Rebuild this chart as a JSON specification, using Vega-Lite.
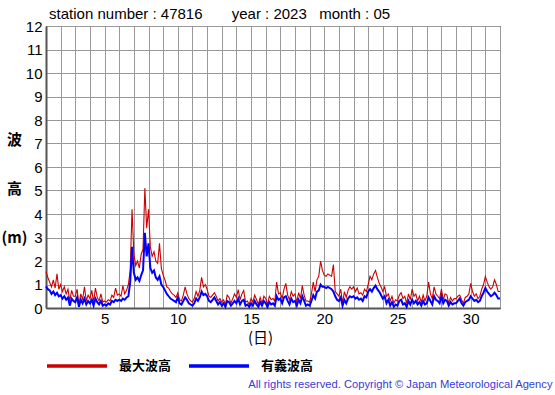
{
"$schema": "https://vega.github.io/schema/vega-lite/v6.json",
"background": "white",
"padding": {"left": 0, "top": 6, "right": 0, "bottom": 0},
"title": {"text": "All rights reserved. Copyright © Japan Meteorological Agency", "orient": "bottom", "anchor": "end", "font": "Liberation Sans", "fontSize": 11.2, "fontWeight": "normal", "color": "#3a3ad8", "dx": 48, "offset": 6},
"config": {
  "view": {"stroke": "black", "strokeWidth": 1},
  "legend": {"orient": "none", "legendX": -1, "legendY": 308, "direction": "horizontal", "title": null, "symbolType": "stroke", "symbolSize": 3600, "symbolStrokeWidth": 3.5, "labelFont": "Noto Sans CJK JP", "labelFontSize": 13, "labelFontWeight": "bold", "labelColor": "black", "labelOffset": 10, "columnPadding": 10}
},
"vconcat": [{
  "title": {"text": "station number : 47816\u00a0\u00a0\u00a0\u00a0\u00a0\u00a0\u00a0year : 2023\u00a0\u00a0\u00a0month : 05", "anchor": "start", "dx": 48, "font": "Liberation Sans", "fontSize": 15, "fontWeight": "normal", "color": "black", "offset": -3},
  "width": 454,
  "height": 282,
  "data": {"values": [
{"t":1,"max":1.55,"sig":0.92},{"t":1.125,"max":1.3,"sig":0.8},{"t":1.25,"max":1.1,"sig":0.75},{"t":1.375,"max":0.9,"sig":0.6},{"t":1.5,"max":1.2,"sig":0.7},{"t":1.625,"max":0.85,"sig":0.55},{"t":1.75,"max":1.45,"sig":0.65},{"t":1.875,"max":0.8,"sig":0.5},
{"t":2,"max":1.0,"sig":0.55},{"t":2.125,"max":0.7,"sig":0.4},{"t":2.25,"max":0.9,"sig":0.5},{"t":2.375,"max":0.6,"sig":0.35},{"t":2.5,"max":0.8,"sig":0.45},{"t":2.625,"max":0.3,"sig":0.1},{"t":2.75,"max":0.75,"sig":0.4},{"t":2.875,"max":0.5,"sig":0.3},
{"t":3,"max":0.5,"sig":0.25},{"t":3.125,"max":0.8,"sig":0.45},{"t":3.25,"max":0.15,"sig":0.05},{"t":3.375,"max":0.6,"sig":0.35},{"t":3.5,"max":0.35,"sig":0.2},{"t":3.625,"max":0.9,"sig":0.4},{"t":3.75,"max":0.3,"sig":0.15},{"t":3.875,"max":0.55,"sig":0.3},
{"t":4,"max":0.4,"sig":0.2},{"t":4.125,"max":0.75,"sig":0.35},{"t":4.25,"max":0.25,"sig":0.1},{"t":4.375,"max":0.85,"sig":0.4},{"t":4.5,"max":0.45,"sig":0.25},{"t":4.625,"max":0.3,"sig":0.15},{"t":4.75,"max":0.6,"sig":0.3},{"t":4.875,"max":0.25,"sig":0.1},
{"t":5,"max":0.3,"sig":0.15},{"t":5.125,"max":0.25,"sig":0.1},{"t":5.25,"max":0.35,"sig":0.2},{"t":5.375,"max":0.3,"sig":0.15},{"t":5.5,"max":0.55,"sig":0.3},{"t":5.625,"max":0.45,"sig":0.25},{"t":5.75,"max":0.85,"sig":0.35},{"t":5.875,"max":0.55,"sig":0.3},
{"t":6,"max":0.6,"sig":0.35},{"t":6.125,"max":0.5,"sig":0.3},{"t":6.25,"max":0.95,"sig":0.4},{"t":6.375,"max":0.6,"sig":0.35},{"t":6.5,"max":0.75,"sig":0.45},{"t":6.625,"max":1.0,"sig":0.5},{"t":6.75,"max":1.6,"sig":1.1},{"t":6.875,"max":4.2,"sig":2.6},
{"t":7,"max":2.3,"sig":1.5},{"t":7.125,"max":1.8,"sig":1.2},{"t":7.25,"max":2.0,"sig":1.3},{"t":7.375,"max":1.7,"sig":1.15},{"t":7.5,"max":2.3,"sig":1.4},{"t":7.625,"max":2.5,"sig":1.6},{"t":7.75,"max":5.1,"sig":3.2},{"t":7.875,"max":3.4,"sig":2.2},
{"t":8,"max":4.2,"sig":2.75},{"t":8.125,"max":2.6,"sig":1.7},{"t":8.25,"max":2.2,"sig":1.5},{"t":8.375,"max":2.4,"sig":1.6},{"t":8.5,"max":2.0,"sig":1.3},{"t":8.625,"max":1.9,"sig":1.2},{"t":8.75,"max":2.75,"sig":1.35},{"t":8.875,"max":1.7,"sig":1.0},
{"t":9,"max":1.4,"sig":0.9},{"t":9.125,"max":1.2,"sig":0.75},{"t":9.25,"max":0.9,"sig":0.6},{"t":9.375,"max":0.85,"sig":0.5},{"t":9.5,"max":0.7,"sig":0.4},{"t":9.625,"max":0.6,"sig":0.35},{"t":9.75,"max":0.55,"sig":0.3},{"t":9.875,"max":0.45,"sig":0.25},
{"t":10,"max":0.65,"sig":0.45},{"t":10.125,"max":0.35,"sig":0.2},{"t":10.25,"max":0.3,"sig":0.15},{"t":10.375,"max":0.55,"sig":0.3},{"t":10.5,"max":0.9,"sig":0.45},{"t":10.625,"max":0.6,"sig":0.35},{"t":10.75,"max":0.4,"sig":0.2},{"t":10.875,"max":0.3,"sig":0.15},
{"t":11,"max":0.25,"sig":0.1},{"t":11.125,"max":0.4,"sig":0.2},{"t":11.25,"max":0.7,"sig":0.4},{"t":11.375,"max":0.5,"sig":0.3},{"t":11.5,"max":0.75,"sig":0.45},{"t":11.625,"max":1.3,"sig":0.7},{"t":11.75,"max":0.9,"sig":0.55},{"t":11.875,"max":1.0,"sig":0.6},
{"t":12,"max":0.8,"sig":0.5},{"t":12.125,"max":0.5,"sig":0.3},{"t":12.25,"max":0.45,"sig":0.25},{"t":12.375,"max":0.55,"sig":0.35},{"t":12.5,"max":0.65,"sig":0.45},{"t":12.625,"max":0.5,"sig":0.3},{"t":12.75,"max":0.3,"sig":0.15},{"t":12.875,"max":0.4,"sig":0.25},
{"t":13,"max":0.25,"sig":0.1},{"t":13.125,"max":0.35,"sig":0.2},{"t":13.25,"max":0.15,"sig":0.05},{"t":13.375,"max":0.55,"sig":0.3},{"t":13.5,"max":0.45,"sig":0.25},{"t":13.625,"max":0.2,"sig":0.1},{"t":13.75,"max":0.4,"sig":0.2},{"t":13.875,"max":0.6,"sig":0.3},
{"t":14,"max":0.45,"sig":0.2},{"t":14.125,"max":0.78,"sig":0.4},{"t":14.25,"max":0.35,"sig":0.15},{"t":14.375,"max":0.6,"sig":0.3},{"t":14.5,"max":0.75,"sig":0.35},{"t":14.625,"max":0.25,"sig":0.1},{"t":14.75,"max":0.3,"sig":0.15},{"t":14.875,"max":0.15,"sig":0.05},
{"t":15,"max":0.4,"sig":0.2},{"t":15.125,"max":0.25,"sig":0.1},{"t":15.25,"max":0.55,"sig":0.3},{"t":15.375,"max":0.35,"sig":0.15},{"t":15.5,"max":0.15,"sig":0.05},{"t":15.625,"max":0.45,"sig":0.25},{"t":15.75,"max":0.2,"sig":0.1},{"t":15.875,"max":0.5,"sig":0.3},
{"t":16,"max":0.4,"sig":0.2},{"t":16.125,"max":0.15,"sig":0.05},{"t":16.25,"max":0.5,"sig":0.25},{"t":16.375,"max":0.35,"sig":0.15},{"t":16.5,"max":0.4,"sig":0.2},{"t":16.625,"max":0.3,"sig":0.1},{"t":16.75,"max":1.1,"sig":0.5},{"t":16.875,"max":0.6,"sig":0.35},
{"t":17,"max":0.65,"sig":0.4},{"t":17.125,"max":0.4,"sig":0.2},{"t":17.25,"max":0.8,"sig":0.45},{"t":17.375,"max":1.05,"sig":0.5},{"t":17.5,"max":0.55,"sig":0.3},{"t":17.625,"max":0.35,"sig":0.15},{"t":17.75,"max":0.7,"sig":0.4},{"t":17.875,"max":0.5,"sig":0.25},
{"t":18,"max":0.6,"sig":0.3},{"t":18.125,"max":0.25,"sig":0.1},{"t":18.25,"max":0.65,"sig":0.35},{"t":18.375,"max":0.4,"sig":0.2},{"t":18.5,"max":0.95,"sig":0.5},{"t":18.625,"max":0.55,"sig":0.3},{"t":18.75,"max":0.3,"sig":0.1},{"t":18.875,"max":0.3,"sig":0.15},
{"t":19,"max":0.25,"sig":0.1},{"t":19.125,"max":0.6,"sig":0.3},{"t":19.25,"max":1.1,"sig":0.55},{"t":19.375,"max":0.7,"sig":0.4},{"t":19.5,"max":1.2,"sig":0.7},{"t":19.625,"max":1.35,"sig":0.75},{"t":19.75,"max":2.0,"sig":1.0},{"t":19.875,"max":1.6,"sig":0.9},
{"t":20,"max":1.4,"sig":0.9},{"t":20.125,"max":1.35,"sig":0.85},{"t":20.25,"max":1.45,"sig":0.9},{"t":20.375,"max":1.4,"sig":0.85},{"t":20.5,"max":1.35,"sig":0.8},{"t":20.625,"max":1.85,"sig":0.7},{"t":20.75,"max":0.7,"sig":0.5},{"t":20.875,"max":0.6,"sig":0.35},
{"t":21,"max":0.5,"sig":0.3},{"t":21.125,"max":0.8,"sig":0.45},{"t":21.25,"max":0.2,"sig":0.1},{"t":21.375,"max":0.7,"sig":0.35},{"t":21.5,"max":0.45,"sig":0.2},{"t":21.625,"max":0.75,"sig":0.4},{"t":21.75,"max":0.9,"sig":0.5},{"t":21.875,"max":0.8,"sig":0.45},
{"t":22,"max":0.9,"sig":0.5},{"t":22.125,"max":0.7,"sig":0.4},{"t":22.25,"max":0.85,"sig":0.45},{"t":22.375,"max":0.6,"sig":0.35},{"t":22.5,"max":0.65,"sig":0.4},{"t":22.625,"max":0.55,"sig":0.3},{"t":22.75,"max":0.8,"sig":0.5},{"t":22.875,"max":0.7,"sig":0.45},
{"t":23,"max":1.0,"sig":0.7},{"t":23.125,"max":1.35,"sig":0.8},{"t":23.25,"max":1.2,"sig":0.7},{"t":23.375,"max":1.45,"sig":0.85},{"t":23.5,"max":1.6,"sig":0.95},{"t":23.625,"max":1.3,"sig":0.8},{"t":23.75,"max":1.05,"sig":0.7},{"t":23.875,"max":0.9,"sig":0.55},
{"t":24,"max":0.7,"sig":0.4},{"t":24.125,"max":0.9,"sig":0.5},{"t":24.25,"max":0.5,"sig":0.2},{"t":24.375,"max":0.6,"sig":0.35},{"t":24.5,"max":0.3,"sig":0.1},{"t":24.625,"max":0.5,"sig":0.25},{"t":24.75,"max":0.2,"sig":0.05},{"t":24.875,"max":0.35,"sig":0.15},
{"t":25,"max":0.3,"sig":0.1},{"t":25.125,"max":0.55,"sig":0.3},{"t":25.25,"max":0.65,"sig":0.35},{"t":25.375,"max":0.4,"sig":0.15},{"t":25.5,"max":0.5,"sig":0.2},{"t":25.625,"max":0.2,"sig":0.05},{"t":25.75,"max":0.6,"sig":0.3},{"t":25.875,"max":0.35,"sig":0.15},
{"t":26,"max":0.8,"sig":0.35},{"t":26.125,"max":0.5,"sig":0.2},{"t":26.25,"max":0.6,"sig":0.3},{"t":26.375,"max":0.3,"sig":0.15},{"t":26.5,"max":0.5,"sig":0.25},{"t":26.625,"max":0.25,"sig":0.1},{"t":26.75,"max":0.55,"sig":0.3},{"t":26.875,"max":0.3,"sig":0.15},
{"t":27,"max":0.5,"sig":0.2},{"t":27.125,"max":1.1,"sig":0.45},{"t":27.25,"max":0.6,"sig":0.3},{"t":27.375,"max":0.4,"sig":0.15},{"t":27.5,"max":0.9,"sig":0.5},{"t":27.625,"max":0.6,"sig":0.35},{"t":27.75,"max":0.5,"sig":0.3},{"t":27.875,"max":0.4,"sig":0.2},
{"t":28,"max":0.8,"sig":0.5},{"t":28.125,"max":0.35,"sig":0.2},{"t":28.25,"max":0.6,"sig":0.35},{"t":28.375,"max":0.55,"sig":0.3},{"t":28.5,"max":0.2,"sig":0.1},{"t":28.625,"max":0.45,"sig":0.25},{"t":28.75,"max":0.3,"sig":0.15},{"t":28.875,"max":0.4,"sig":0.2},
{"t":29,"max":0.4,"sig":0.2},{"t":29.125,"max":0.5,"sig":0.3},{"t":29.25,"max":0.55,"sig":0.4},{"t":29.375,"max":0.35,"sig":0.2},{"t":29.5,"max":0.2,"sig":0.1},{"t":29.625,"max":0.45,"sig":0.25},{"t":29.75,"max":0.5,"sig":0.3},{"t":29.875,"max":0.6,"sig":0.35},
{"t":30,"max":1.05,"sig":0.5},{"t":30.125,"max":0.7,"sig":0.4},{"t":30.25,"max":0.5,"sig":0.3},{"t":30.375,"max":0.6,"sig":0.35},{"t":30.5,"max":0.4,"sig":0.25},{"t":30.625,"max":0.5,"sig":0.3},{"t":30.75,"max":0.8,"sig":0.5},{"t":30.875,"max":1.0,"sig":0.65},
{"t":31,"max":1.34,"sig":0.85},{"t":31.125,"max":1.1,"sig":0.7},{"t":31.25,"max":0.9,"sig":0.6},{"t":31.375,"max":0.8,"sig":0.5},{"t":31.5,"max":0.9,"sig":0.55},{"t":31.625,"max":1.2,"sig":0.65},{"t":31.75,"max":1.0,"sig":0.55},{"t":31.875,"max":0.7,"sig":0.4},
{"t":32,"max":0.7,"sig":0.4}
  ]},
  "transform": [{"fold": ["max", "sig"], "as": ["series", "value"]}],
  "encoding": {
    "x": {"field": "t", "type": "quantitative", "scale": {"domain": [1, 32], "nice": false, "zero": false},
      "axis": {"values": [1,2,3,4,5,6,7,8,9,10,11,12,13,14,15,16,17,18,19,20,21,22,23,24,25,26,27,28,29,30,31,32], "labelExpr": "datum.value % 5 === 0 ? datum.label : ''", "ticks": false, "grid": true, "gridColor": "#999999", "gridWidth": 1, "domainColor": "#555555", "domainWidth": 2, "labelFont": "Liberation Sans", "labelFontSize": 15, "labelColor": "black", "labelPadding": 3, "labelFlush": false, "labelOverlap": false, "title": "(日)", "titleFont": "Noto Sans CJK JP", "titleFontSize": 15, "titleFontWeight": "normal", "titleColor": "black", "titlePadding": 4, "titleX": 214}},
    "y": {"field": "value", "type": "quantitative", "scale": {"domain": [0, 12], "nice": false},
      "axis": {"values": [0,1,2,3,4,5,6,7,8,9,10,11,12], "ticks": false, "grid": true, "gridColor": "#999999", "gridWidth": 1, "domainColor": "#555555", "domainWidth": 2, "labelFont": "Liberation Sans", "labelFontSize": 15, "labelColor": "black", "labelPadding": 4, "labelFlush": false, "labelOverlap": false, "title": ["波", "高", "(m)"], "titleAngle": 0, "titleAlign": "center", "titleBaseline": "top", "titleX": -32, "titleY": 106, "titleFont": "Noto Sans CJK JP", "titleFontSize": 15, "titleFontWeight": "bold", "titleColor": "black", "titleLineHeight": 49}},
    "color": {"field": "series", "type": "nominal", "scale": {"domain": ["max", "sig"], "range": ["#cc0000", "#0000ff"]},
      "legend": {"labelExpr": "datum.value === 'max' ? '最大波高' : '有義波高'"}}
  },
  "layer": [
    {"transform": [{"filter": "datum.series === 'max'"}], "mark": {"type": "line", "strokeWidth": 1.1}},
    {"transform": [{"filter": "datum.series === 'sig'"}], "mark": {"type": "line", "strokeWidth": 2}}
  ]
}]
}
